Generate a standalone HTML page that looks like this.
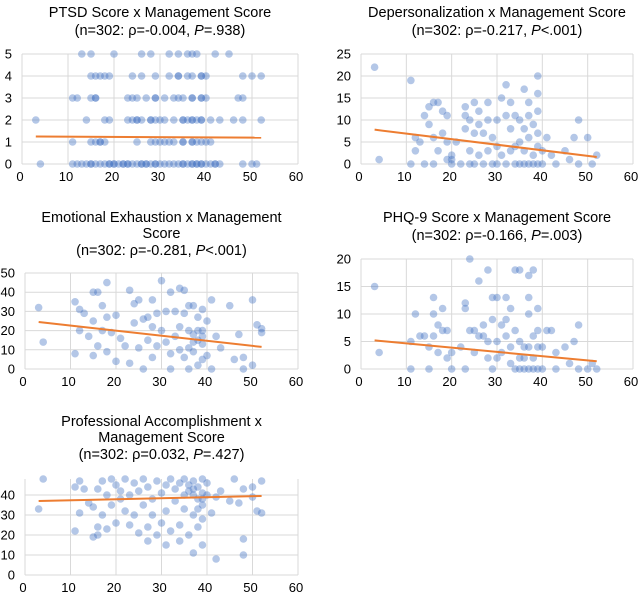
<!DOCTYPE html>
<html><head><meta charset="utf-8"><style>
body{margin:0;background:#fff;width:640px;height:592px;overflow:hidden;font-family:"Liberation Sans",sans-serif}
svg text{font-family:"Liberation Sans",sans-serif;fill:#000}
</style></head><body>
<svg id="c" width="640" height="592" xmlns="http://www.w3.org/2000/svg"></svg>
<script>
const xTicks=[0,10,20,30,40,50,60];
const ptsPTSD=[[13,5],[15,5],[20,5],[26,5],[28,5],[32,5],[34,5],[36,5],[37,5],[38,5],[42,5],[45,5],
[15,4],[16,4],[17,4],[18,4],[19,4],[24,4],[26,4],[29,4],[32,4],[34,4],[34,4],[36,4],[37,4],[39,4],[39,4],[40,4],[48,4],[50,4],[52,4],
[11,3],[12,3],[15,3],[16,3],[16,3],[23,3],[24,3],[25,3],[27,3],[29,3],[29,3],[31,3],[33,3],[34,3],[35,3],[37,3],[37,3],[39,3],[39,3],[40,3],[47,3],[48,3],
[3,2],[14,2],[18,2],[19,2],[23,2],[24,2],[25,2],[25,2],[26,2],[28,2],[28,2],[29,2],[30,2],[31,2],[33,2],[35,2],[35,2],[36,2],[37,2],[37,2],[38,2],[39,2],[39,2],[41,2],[43,2],[46,2],[48,2],[52,2],
[11,1],[15,1],[16,1],[17,1],[17,1],[18,1],[25,1],[28,1],[29,1],[30,1],[31,1],[32,1],[33,1],[35,1],[35,1],[37,1],[37,1],[38,1],[39,1],[40,1],[41,1],
[4,0],[11,0],[12,0],[13,0],[14,0],[15,0],[15,0],[16,0],[17,0],[18,0],[19,0],[19,0],[20,0],[20,0],[21,0],[22,0],[22,0],[23,0],[23,0],[24,0],[25,0],[26,0],[26,0],[27,0],[27,0],[28,0],[29,0],[29,0],[30,0],[31,0],[32,0],[33,0],[34,0],[35,0],[35,0],[36,0],[37,0],[37,0],[38,0],[38,0],[39,0],[39,0],[40,0],[41,0],[42,0],[42,0],[43,0],[48,0],[50,0],[51,0]];
const ptsDP=[[3,22],[4,1],[11,19],[11,0],[12,6],[12,3],[13,5],[14,11],[15,13],[15,9],[16,14],[16,6],[17,14],[17,3],[18,12],[18,7],[19,11],[19,5],[19,1],[20,2],[20,0],[21,5],[22,0],[23,13],[23,11],[23,8],[24,10],[24,3],[25,14],[25,7],[25,0],[26,9],[26,12],[27,7],[27,0],[28,14],[28,10],[28,3],[29,6],[29,0],[30,10],[30,4],[31,15],[31,2],[32,18],[32,11],[32,0],[33,14],[33,8],[34,11],[34,4],[34,0],[35,10],[35,5],[35,0],[36,17],[36,8],[36,3],[37,14],[37,11],[37,6],[37,0],[38,9],[38,2],[39,20],[39,16],[39,12],[39,7],[39,4],[39,0],[40,3],[40,0],[41,6],[42,2],[43,0],[45,3],[46,1],[47,6],[48,10],[48,0],[50,6],[51,0],[52,2],[38,0],[36,0],[33,3],[30,0],[26,2],[24,0],[20,1],[16,0],[14,0]];
const ptsEE=[[3,32],[4,14],[11,35],[11,8],[12,31],[12,20],[13,29],[14,17],[15,40],[15,25],[15,7],[16,40],[16,12],[17,33],[17,20],[18,45],[18,27],[18,9],[19,19],[20,28],[20,4],[21,16],[22,12],[23,41],[23,3],[24,34],[24,24],[25,36],[25,11],[26,26],[26,0],[27,27],[27,15],[28,36],[28,22],[28,6],[29,29],[29,12],[30,46],[30,20],[31,30],[31,14],[32,40],[32,8],[32,0],[33,30],[33,17],[34,42],[34,22],[34,10],[35,41],[35,29],[35,6],[36,33],[36,20],[36,0],[37,33],[37,18],[37,9],[38,27],[38,15],[38,2],[39,31],[39,20],[39,13],[39,5],[40,25],[40,7],[41,36],[41,0],[42,17],[43,11],[45,33],[46,5],[47,18],[48,6],[48,0],[50,36],[50,2],[51,23],[52,21],[52,19],[38,20],[39,17],[37,14],[36,11]];
const ptsPHQ=[[3,15],[4,3],[11,0],[11,5],[12,10],[13,6],[14,6],[15,4],[15,0],[16,13],[16,10],[16,6],[17,3],[17,8],[18,11],[18,7],[19,7],[19,2],[20,3],[20,0],[22,4],[23,12],[23,11],[23,0],[24,20],[24,7],[25,3],[25,7],[26,16],[26,6],[27,6],[27,8],[28,18],[28,5],[28,2],[29,9],[29,13],[29,0],[30,13],[30,5],[30,2],[31,8],[31,3],[32,13],[32,9],[32,6],[33,11],[33,4],[33,1],[34,18],[34,7],[34,0],[35,18],[35,5],[35,2],[36,4],[36,0],[37,17],[37,13],[37,10],[37,4],[37,0],[38,18],[38,6],[38,2],[39,11],[39,7],[39,4],[39,0],[40,4],[40,0],[41,7],[42,7],[43,3],[43,0],[45,4],[46,1],[47,5],[48,8],[48,0],[50,0],[51,1],[52,0],[36,2],[38,0],[35,0]];
const ptsPA=[[3,33],[4,48],[11,22],[11,44],[12,31],[12,47],[13,43],[14,36],[15,19],[15,34],[16,43],[16,24],[16,20],[17,47],[17,30],[18,40],[18,23],[19,48],[19,35],[20,26],[20,45],[21,38],[21,42],[22,32],[22,48],[23,25],[23,40],[24,46],[24,30],[25,21],[25,42],[26,35],[26,48],[27,17],[27,44],[27,24],[28,38],[28,30],[29,47],[29,20],[30,41],[30,26],[31,15],[31,45],[31,32],[32,48],[32,22],[33,37],[33,43],[34,17],[34,25],[34,46],[35,33],[35,40],[35,48],[36,20],[36,42],[37,11],[37,30],[37,47],[38,38],[38,44],[38,24],[39,15],[39,35],[39,48],[39,28],[40,40],[40,46],[41,31],[42,8],[42,39],[43,42],[45,37],[46,48],[47,36],[48,18],[48,10],[48,43],[50,44],[50,39],[51,32],[52,31],[52,47],[39,41],[37,43],[36,45],[38,33],[39,38],[37,40]];
const trendPTSD=[[3,1.25],[52,1.2]];
const trendDP=[[3,7.8],[52,1.6]];
const trendEE=[[3,24.5],[52,11.5]];
const trendPHQ=[[3,5.2],[52,1.4]];
const trendPA=[[3,37],[52,39.5]];
const yTicksPTSD=[0,1,2,3,4,5],yTicksDP=[0,5,10,15,20,25],yTicksEE=[0,10,20,30,40,50],yTicksPHQ=[0,5,10,15,20],yTicksPA=[0,10,20,30,40];

const svg=document.getElementById('c');
const NS='http://www.w3.org/2000/svg';
function el(t,a,p){const e=document.createElementNS(NS,t);for(const k in a)e.setAttribute(k,a[k]);(p||svg).appendChild(e);return e;}
const panels=[
{id:'ptsd',L:22,R:298,T:54,B:164,ymax:5,yt:yTicksPTSD,pts:ptsPTSD,tr:trendPTSD,title:['PTSD Score x Management Score'],stat:['0.004','=.938','-'],ty:[12,30]},
{id:'depersonalization',L:361,R:633,T:54,B:164,ymax:25,yt:yTicksDP,pts:ptsDP,tr:trendDP,title:['Depersonalization x Management Score'],stat:['0.217','<.001','-'],ty:[12,30]},
{id:'emotional-exhaustion',L:25,R:298,T:273,B:369,ymax:50,yt:yTicksEE,pts:ptsEE,tr:trendEE,title:['Emotional Exhaustion x Management','Score'],stat:['0.281','<.001','-'],ty:[217,233,250]},
{id:'phq9',L:361,R:633,T:259,B:369,ymax:20,yt:yTicksPHQ,pts:ptsPHQ,tr:trendPHQ,title:['PHQ-9 Score x Management Score'],stat:['0.166','=.003','-'],ty:[217,235]},
{id:'professional-accomplishment',L:25,R:298,T:479,B:575,ymax:48,yt:yTicksPA,pts:ptsPA,tr:trendPA,title:['Professional Accomplishment x','Management Score'],stat:['0.032','=.427',''],ty:[421,437,454]}
];
panels.forEach(p=>{
  const g=el('g',{});
  
  
  const sx=v=>p.L+(p.R-p.L)*v/60, sy=v=>p.B-(p.B-p.T)*v/p.ymax;
  const cx=(p.L+p.R)/2;
  p.title.forEach((t,i)=>{const e=el('text',{x:cx,y:p.ty[i]+5,'text-anchor':'middle','font-size':'14.5'},g);e.textContent=t;
    });
  const st=el('text',{x:cx,y:p.ty[p.title.length]+5,'text-anchor':'middle','font-size':'14.5'},g);
  
  const pv=p.stat[1];
  st.innerHTML='(n=302: ρ='+p.stat[2]+p.stat[0]+', <tspan font-style="italic">P</tspan>'+(pv[0]=='<'?'&lt;'+pv.slice(1):pv)+')';
  p.yt.forEach(v=>{const y=sy(v);el('line',{x1:p.L,x2:p.R,y1:y,y2:y,stroke:'#d9d9d9','stroke-width':1},g);
    const t=el('text',{x:p.L-10,y:y+4.5,'text-anchor':'end','font-size':'13'},g);t.textContent=v;
    });
  xTicks.forEach(v=>{const x=sx(v);el('line',{x1:x,x2:x,y1:p.T,y2:p.B,stroke:'#d9d9d9','stroke-width':1},g);
    const t=el('text',{x:x-2,y:p.B+17,'text-anchor':'middle','font-size':'13'},g);t.textContent=v;
    });
  p.pts.forEach(d=>{const c=el('circle',{cx:sx(d[0]),cy:sy(d[1]),r:3.8,fill:'#4472c4','fill-opacity':0.4},g);
    });
  const l=el('line',{x1:sx(p.tr[0][0]),y1:sy(p.tr[0][1]),x2:sx(p.tr[1][0]),y2:sy(p.tr[1][1]),stroke:'#ed7d31','stroke-width':2},g);
  
});
</script>
</body></html>
